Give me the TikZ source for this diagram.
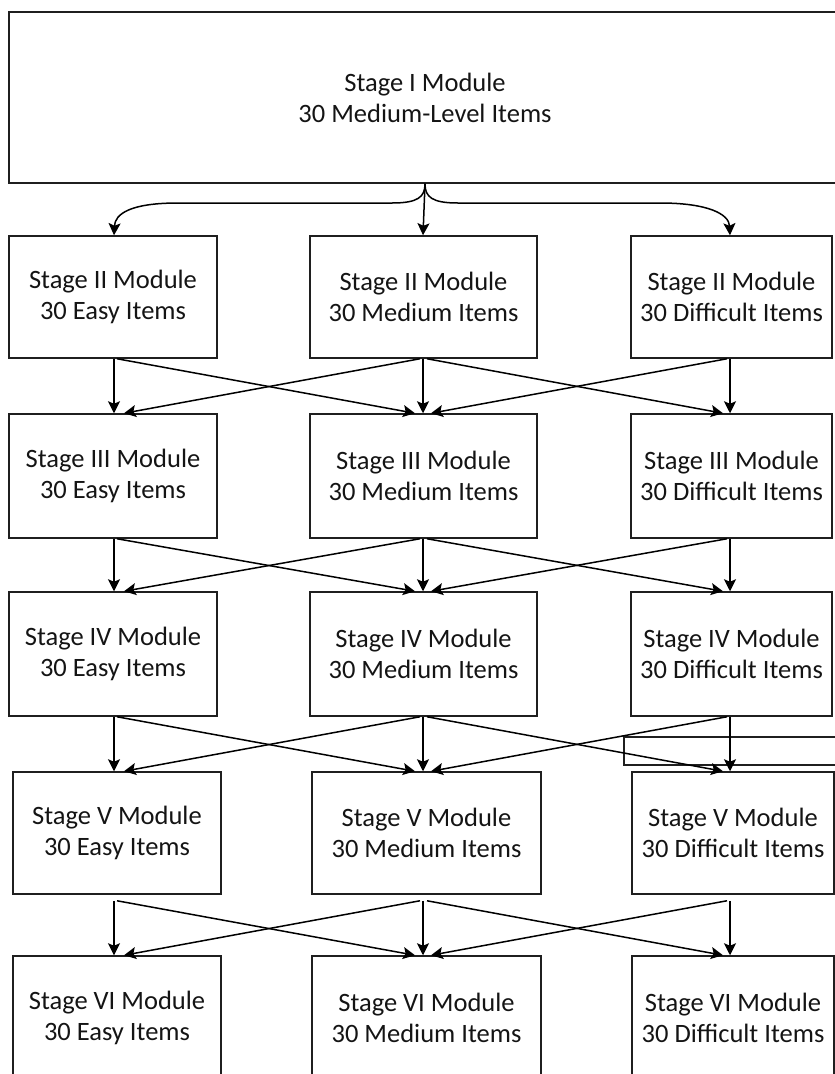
\documentclass[tikz,border=0pt]{standalone}
\usepackage{fontspec}
\setmainfont{Carlito}
\usetikzlibrary{arrows.meta,calc}
\tikzset{
  module/.style={draw=black!88, line width=1.5pt, align=center, inner sep=0pt,
    font=\fontsize{26.5}{31}\selectfont, text=black!92},
  frame/.style={draw=black!88, line width=1.3pt},
  arr/.style={draw=black, line width=1.5pt,
    -{Stealth[width=12pt,length=12pt,inset=2.5pt]}},
}
% \modbox{name}{x}{y}{width}{height}{text}
\newcommand{\modbox}[6]{%
  \node[module, minimum width=#4pt, minimum height=#5pt] (#1) at (#2,#3) {#6};}
% arrows from one row of modules to the next: #1 upper row, #2 lower row, #3 start gap
\newcommand{\linkrows}[3]{%
  \draw[arr] ($(#1l.south -| cL)+(0,#3)$) -- (#2l.north -| cL);
  \draw[arr] ($(#1m.south -| cM)+(0,#3)$) -- (#2m.north -| cM);
  \draw[arr] ($(#1r.south -| cR)+(0,#3)$) -- (#2r.north -| cR);
  \draw[arr] ($(#1l.south -| cL)+(3,#3)$) -- ($(#2m.north -| cM)+(-8,0)$);
  \draw[arr] ($(#1m.south -| cM)+(-3,#3)$) -- ($(#2l.north -| cL)+(10,0)$);
  \draw[arr] ($(#1m.south -| cM)+(4,#3)$) -- ($(#2r.north -| cR)+(-7,0)$);
  \draw[arr] ($(#1r.south -| cR)+(-3,#3)$) -- ($(#2m.north -| cM)+(8,0)$);
}
\begin{document}
\begin{tikzpicture}[x=1pt,y=-1pt]
\clip (0,0) rectangle (835,1074);

% column lines for the connectors
\coordinate (cL) at (114,0);
\coordinate (cM) at (423,0);
\coordinate (cR) at (730,0);

% stage I
\modbox{top}{425}{97.5}{832}{171}{Stage I Module\\30 Medium-Level Items}

% stage II
\modbox{r2l}{113}{297}{208}{122}{Stage II Module\\30 Easy Items}
\modbox{r2m}{423.5}{297}{227}{122}{Stage II Module\\30 Medium Items}
\modbox{r2r}{731.5}{297}{201}{122}{Stage II Module\\30 Difficult Items}

% stage III
\modbox{r3l}{113}{476}{208}{124}{Stage III Module\\30 Easy Items}
\modbox{r3m}{423.5}{476}{227}{124}{Stage III Module\\30 Medium Items}
\modbox{r3r}{731.5}{476}{201}{124}{Stage III Module\\30 Difficult Items}

% stage IV
\modbox{r4l}{113}{654}{208}{124}{Stage IV Module\\30 Easy Items}
\modbox{r4m}{423.5}{654}{227}{124}{Stage IV Module\\30 Medium Items}
\modbox{r4r}{731.5}{654}{201}{124}{Stage IV Module\\30 Difficult Items}

% stage V
\modbox{r5l}{117}{833}{208}{122}{Stage V Module\\30 Easy Items}
\modbox{r5m}{426.5}{833}{229}{122}{Stage V Module\\30 Medium Items}
\modbox{r5r}{733}{833}{202}{122}{Stage V Module\\30 Difficult Items}

% stage VI
\modbox{r6l}{117}{1018}{208}{124}{Stage VI Module\\30 Easy Items}
\modbox{r6m}{426.5}{1018}{229}{124}{Stage VI Module\\30 Medium Items}
\modbox{r6r}{733}{1018}{202}{124}{Stage VI Module\\30 Difficult Items}

% stray frame on the right
\node[frame, minimum width=226pt, minimum height=28pt, inner sep=0pt] (stray) at (737,751) {};

% branching from stage I
\draw[arr] (top.south) -- (r2m.north -| cM);
\draw[arr] (top.south) .. controls (425,197) and (418,203) .. (392,203)
  -- (178,203) .. controls (130,203) and (115,214) .. (r2l.north -| cL);
\draw[arr] (top.south) .. controls (425,197) and (432,203) .. (458,203)
  -- (660,203) .. controls (708,203) and (729,214) .. (r2r.north -| cR);

% stage-to-stage routing
\linkrows{r2}{r3}{0}
\linkrows{r3}{r4}{0}
\linkrows{r4}{r5}{0}
\linkrows{r5}{r6}{6}
\end{tikzpicture}
\end{document}
